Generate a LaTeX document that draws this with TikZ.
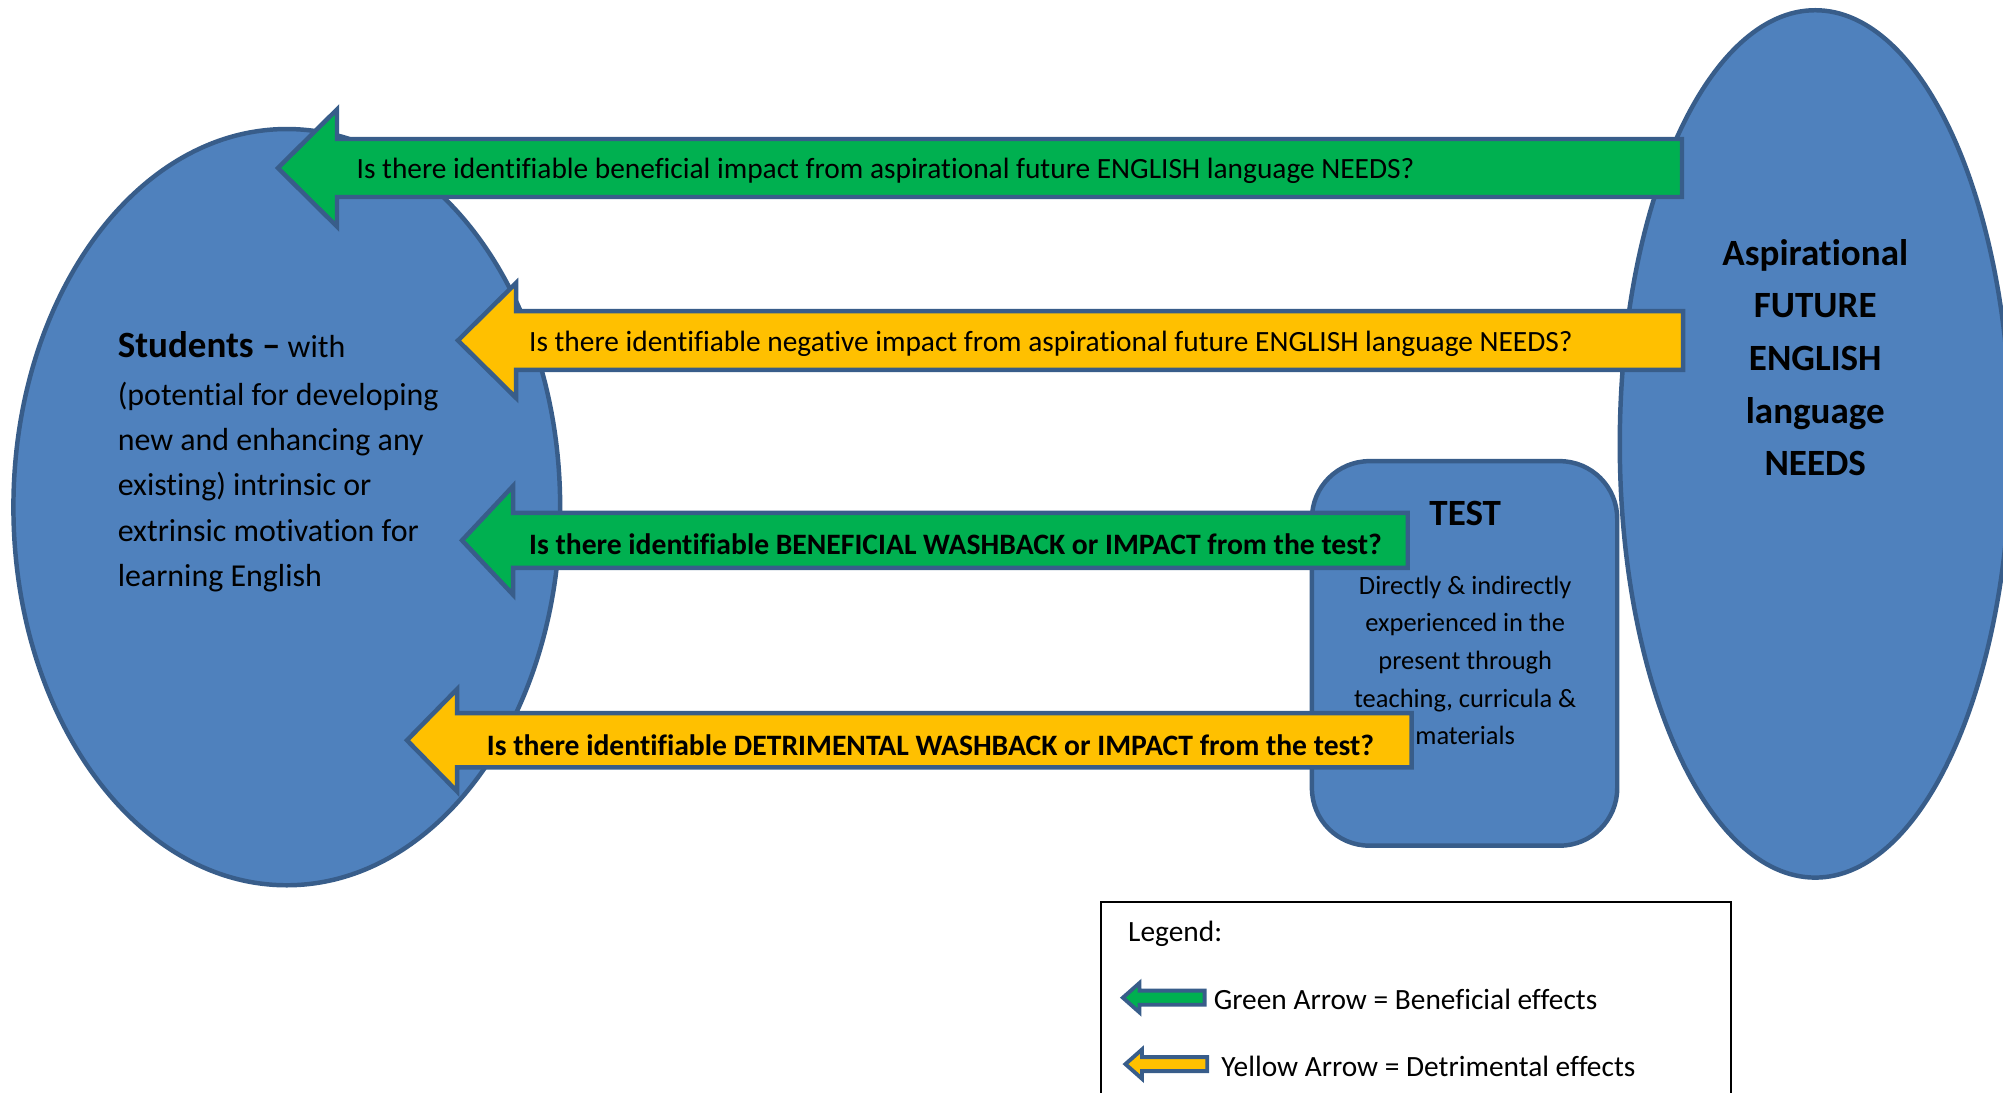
\documentclass[tikz,border=0pt]{standalone}
\usepackage{fontspec}
\setmainfont{Carlito}[Ligatures=NoCommon]
\usetikzlibrary{shapes.geometric}
\definecolor{fillblue}{HTML}{4F81BD}
\definecolor{edgeblue}{HTML}{385D8A}
\definecolor{argreen}{HTML}{00B050}
\definecolor{aryellow}{HTML}{FFC000}
% tip x, base x, right x, centre y, body half, head half, fill, line width
\newcommand\bkarrow[8]{%
  \draw[draw=edgeblue, line join=miter, line width=#8, fill=#7]
    (#1,#4) -- (#2,#4-#6) -- (#2,#4-#5) -- (#3,#4-#5) -- (#3,#4+#5)
    -- (#2,#4+#5) -- (#2,#4+#6) -- cycle;}
\tikzset{
  blob/.style={draw=edgeblue, fill=fillblue, line width=3.5pt, inner sep=0pt},
  arrtext/.style={anchor=west, inner sep=0pt, font=\fontsize{23}{27}\selectfont},
  arrbold/.style={anchor=west, inner sep=0pt, font=\fontsize{23.2}{27}\selectfont\bfseries},
}
\begin{document}
\begin{tikzpicture}[x=1pt, y=-1pt]
\useasboundingbox (0,0) rectangle (1568,855);
% main shapes
\node[blob, ellipse, minimum width=428pt, minimum height=592pt] (students) at (224.5,397) {};
\node[blob, ellipse, minimum width=306pt, minimum height=679pt] (needs) at (1421,347.5) {};
\node[blob, rectangle, rounded corners=45pt, minimum width=239pt, minimum height=301pt] (test) at (1146.5,511.5) {};
% texts in shapes
\node[anchor=north west, inner sep=0pt, align=left, font=\fontsize{25}{35.5}\selectfont] (studtext) at (92,259)
  {{\fontsize{29}{35.5}\selectfont\bfseries Students –} with\\[2pt]
   (potential for developing\\ new and enhancing any\\ existing) intrinsic or\\ extrinsic motivation for\\ learning English};
\node[align=center, inner sep=0pt, font=\fontsize{29}{41.2}\selectfont\bfseries] (needstext) at (1421,280)
  {Aspirational\\ FUTURE\\ ENGLISH\\ language\\ NEEDS};
\node[inner sep=0pt, font=\fontsize{29}{34}\selectfont\bfseries] (testtitle) at (1147,402) {TEST};
\node[align=center, inner sep=0pt, font=\fontsize{20.7}{29.5}\selectfont] (testtext) at (1147,517)
  {Directly \& indirectly\\ experienced in the\\ present through\\ teaching, curricula \&\\ materials};
% block arrows
\bkarrow{217.6}{263.8}{1316.7}{131.5}{22.7}{45.8}{argreen}{3.5pt}
\node[arrtext] (q1) at (279,134) {Is there identifiable beneficial impact from aspirational future ENGLISH language NEEDS?};
\bkarrow{358.5}{404}{1317.5}{266.5}{23}{45}{aryellow}{3.5pt}
\node[arrtext] (q2) at (414,269) {Is there identifiable negative impact from aspirational future ENGLISH language NEEDS?};
\bkarrow{361.7}{401.6}{1102}{423}{21.5}{42.5}{argreen}{3.5pt}
\node[arrbold] (q3) at (414,426) {Is there identifiable BENEFICIAL WASHBACK or IMPACT from the test?};
\bkarrow{318.6}{357.8}{1105}{579.5}{21.2}{40}{aryellow}{3.5pt}
\node[arrbold] (q4) at (381,583) {Is there identifiable DETRIMENTAL WASHBACK or IMPACT from the test?};
% legend
\draw[black, line width=1.3pt] (862,706) rectangle (1355,880);
\node[arrtext] (legtitle) at (883,731) {Legend:};
\bkarrow{879}{892}{943}{781}{5.5}{11.5}{argreen}{3pt}
\node[arrtext] (leggreen) at (950,782) {Green Arrow = Beneficial effects};
\bkarrow{881}{894}{945}{833}{5.5}{11.5}{aryellow}{3pt}
\node[arrtext] (legyellow) at (956,835) {Yellow Arrow = Detrimental effects};
\end{tikzpicture}
\end{document}
